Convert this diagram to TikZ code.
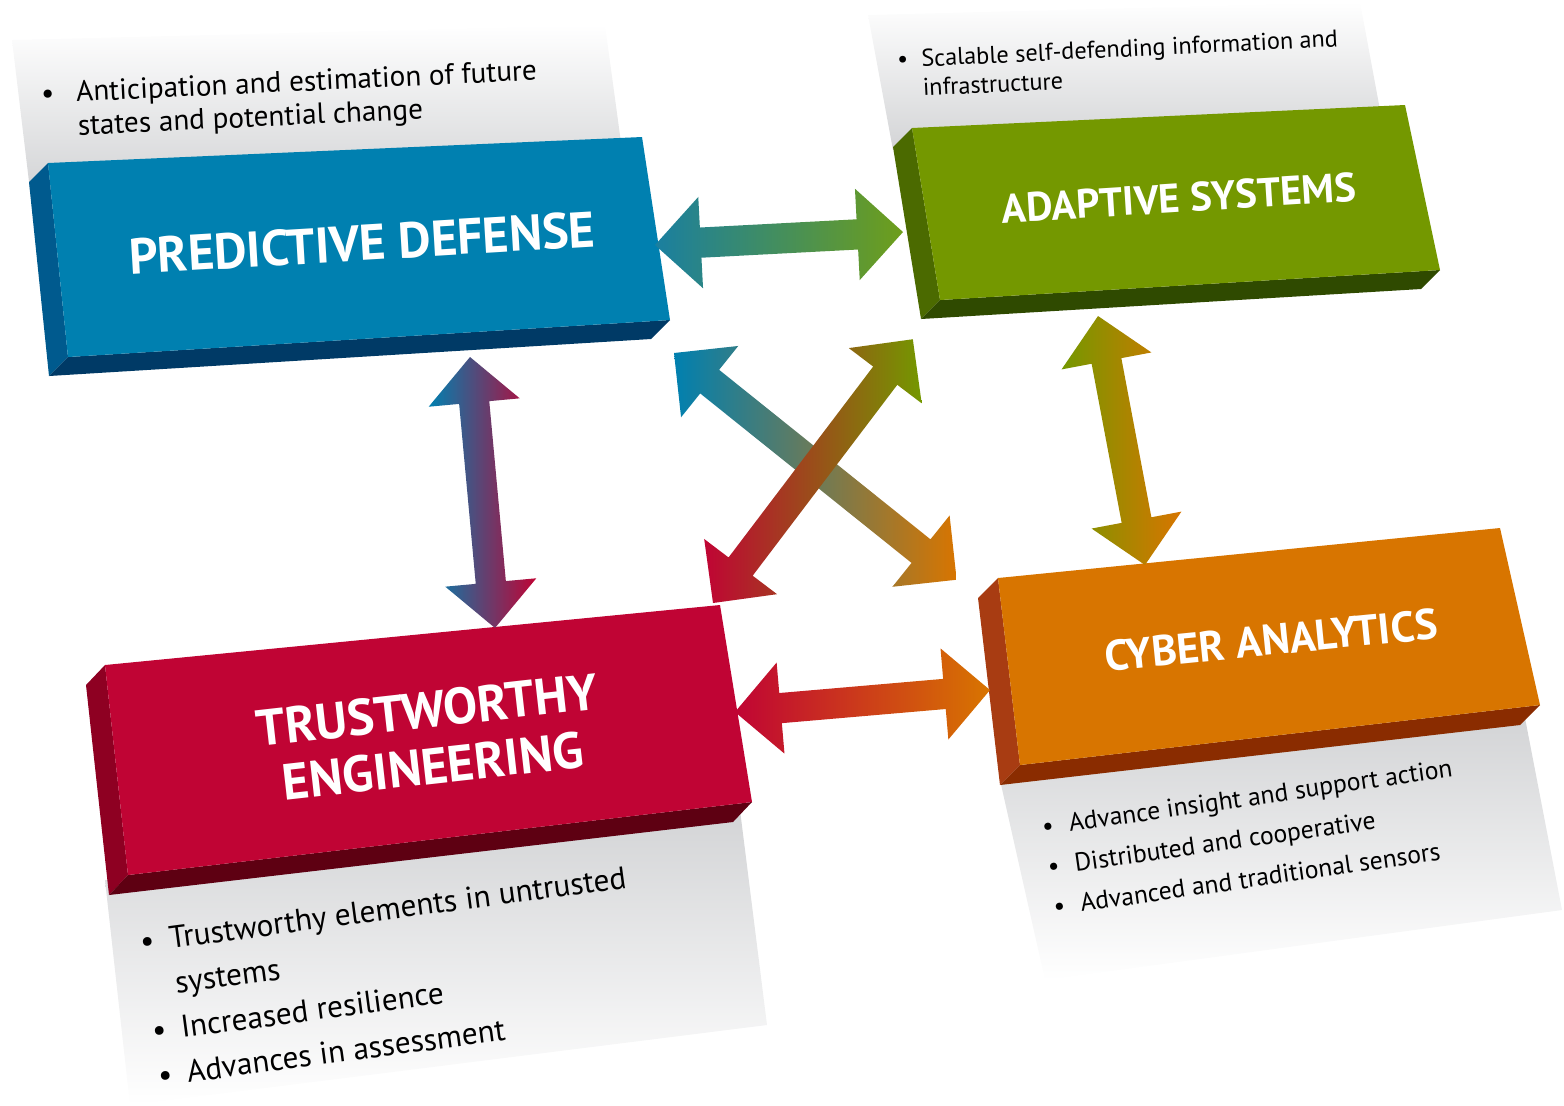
\documentclass[tikz,border=0pt]{standalone}
\usepackage{fontspec}
\setmainfont{PT Sans}
\usetikzlibrary{calc}

\definecolor{panelgray}{HTML}{D3D4D6}
\definecolor{pdfront}{HTML}{0080B0}
\definecolor{pdside}{HTML}{005A8E}
\definecolor{pdbottom}{HTML}{003A66}
\definecolor{asfront}{HTML}{749800}
\definecolor{asside}{HTML}{4B6A00}
\definecolor{asbottom}{HTML}{2F4A00}
\definecolor{tefront}{HTML}{C00434}
\definecolor{teside}{HTML}{8E0022}
\definecolor{tebottom}{HTML}{5E0012}
\definecolor{cafront}{HTML}{D87500}
\definecolor{caside}{HTML}{A83C12}
\definecolor{cabottom}{HTML}{8A2C00}
\definecolor{arteal}{HTML}{1A7FA0}
\definecolor{argreen}{HTML}{6E9E1A}

\tikzset{
  toppanel/.style={top color=white, bottom color=panelgray},
  bottompanel/.style={top color=panelgray, bottom color=white},
  boxtitle/.style={text=white, font=\fontsize{12.5}{15}\selectfont\bfseries,
    align=center, inner sep=0pt},
  paneltext/.style={text=black, align=left, inner sep=0pt, anchor=north west}
}

\newcommand\bitem[1][1em]{\makebox[#1][l]{\textbullet}}
\newcommand\bcont[1][1em]{\hspace*{#1}}

% double arrow with a colour run from #1 (#3) to #2 (#4)
\newcommand\dblarrow[4]{%
  \path (#1); \pgfgetlastxy{\arax}{\aray}
  \path (#2); \pgfgetlastxy{\arbx}{\arby}
  \pgfmathsetmacro\arang{atan2(\arby-\aray,\arbx-\arax)}
  \pgfmathsetmacro\arlen{veclen(\arbx-\arax,\arby-\aray)}
  \pgfmathsetmacro\arback{\arlen-13}
  \begin{scope}[shift={(#1)}, rotate=\arang]
    \shade[left color=#3, right color=#4]
      (0pt,0pt) -- (13pt,13pt) -- (13pt,4.3pt) -- (\arback pt,4.3pt)
      -- (\arback pt,13pt) -- (\arlen pt,0pt) -- (\arback pt,-13pt)
      -- (\arback pt,-4.3pt) -- (13pt,-4.3pt) -- (13pt,-13pt) -- cycle;
  \end{scope}}

\begin{document}
\begin{tikzpicture}[x=0.01cm, y=-0.01cm]
  \useasboundingbox (0,0) rectangle (1564,1105);

  % text panels
  \shade[toppanel] (12,40) -- (605,25) -- (622,150) -- (30,190) -- cycle;
  \shade[toppanel] (868,15) -- (1360,2) -- (1380,110) -- (893,150) -- cycle;
  \shade[bottompanel] (105,880) -- (740,810) -- (767,1025) -- (130,1105) -- cycle;
  \shade[bottompanel] (1000,780) -- (1525,718) -- (1562,910) -- (1045,980) -- cycle;

  % predictive defense
  \fill[pdside] (29,182) -- (48,163) -- (68,357) -- (49,376) -- cycle;
  \fill[pdbottom] (68,357) -- (670,320) -- (651,339) -- (49,376) -- cycle;
  \fill[pdfront] (48,163) -- (642,137) -- (670,320) -- (68,357) -- cycle;
  \node[boxtitle, rotate=3.4, font=\fontsize{14.3}{16}\selectfont\bfseries]
    (pd) at (362,243) {PREDICTIVE DEFENSE};

  % adaptive systems
  \fill[asside] (893,147) -- (912,128) -- (940,300) -- (921,319) -- cycle;
  \fill[asbottom] (940,300) -- (1440,270) -- (1421,289) -- (921,319) -- cycle;
  \fill[asfront] (912,128) -- (1405,105) -- (1440,270) -- (940,300) -- cycle;
  \node[boxtitle, rotate=3.6, font=\fontsize{11.6}{14}\selectfont\bfseries]
    (as) at (1179,198) {ADAPTIVE SYSTEMS};

  % trustworthy engineering
  \fill[teside] (86,685) -- (105,665) -- (128,875) -- (109,895) -- cycle;
  \fill[tebottom] (128,875) -- (752,802) -- (733,822) -- (109,895) -- cycle;
  \fill[tefront] (105,665) -- (720,605) -- (752,802) -- (128,875) -- cycle;
  \node[boxtitle, rotate=6.4, font=\fontsize{14.5}{16}\selectfont\bfseries]
    (te) at (430,738) {TRUSTWORTHY\\ENGINEERING};

  % cyber analytics
  \fill[caside] (978,598) -- (998,578) -- (1020,765) -- (1000,785) -- cycle;
  \fill[cabottom] (1020,765) -- (1540,705) -- (1520,725) -- (1000,785) -- cycle;
  \fill[cafront] (998,578) -- (1500,528) -- (1540,705) -- (1020,765) -- cycle;
  \node[boxtitle, rotate=5.7, font=\fontsize{12.2}{14}\selectfont\bfseries]
    (ca) at (1271,640) {CYBER ANALYTICS};

  % panel texts
  \node[paneltext, rotate=2.7, font=\fontsize{8.3}{9.5}\selectfont] (pdtext) at (40,82)
    {\bitem[1.2em]Anticipation and estimation of future\\\bcont[1.2em]states and potential change};
  \node[paneltext, rotate=2.8, font=\fontsize{6.9}{8.3}\selectfont] (astext) at (896,50)
    {\bitem Scalable self-defending information and\\\bcont infrastructure};
  \node[paneltext, rotate=7.6, font=\fontsize{8.9}{12.8}\selectfont] (tetext) at (138,930)
    {\bitem[0.93em]Trustworthy elements in untrusted\\\bcont[0.93em]systems\\
     \bitem[0.93em]Increased resilience\\\bitem[0.93em]Advances in assessment};
  \node[paneltext, rotate=8.2, font=\fontsize{7.3}{11.5}\selectfont] (catext) at (1040,817)
    {\bitem[1.05em]Advance insight and support action\\\bitem[1.05em]Distributed and cooperative\\
     \bitem[1.05em]Advanced and traditional sensors};

  % arrow ends
  \coordinate (pdE) at (655,245);
  \coordinate (asW) at (903,232);
  \coordinate (pdS) at (470,357);
  \coordinate (teN) at (495,628);
  \coordinate (asS) at (1098,316);
  \coordinate (caN) at (1145,565);
  \coordinate (teE) at (735,712);
  \coordinate (caW) at (990,690);
  \coordinate (pdSE) at (674,353);
  \coordinate (caNW) at (957,580);
  \coordinate (teNE) at (713,603);
  \coordinate (asSW) at (913,339);

  % arrows
  \dblarrow{pdE}{asW}{arteal}{argreen}
  \dblarrow{pdS}{teN}{pdfront}{tefront}
  \dblarrow{asS}{caN}{asfront}{cafront}
  \dblarrow{teE}{caW}{tefront}{cafront}
  \dblarrow{pdSE}{caNW}{pdfront}{cafront}
  \dblarrow{teNE}{asSW}{tefront}{asfront}
\end{tikzpicture}
\end{document}
